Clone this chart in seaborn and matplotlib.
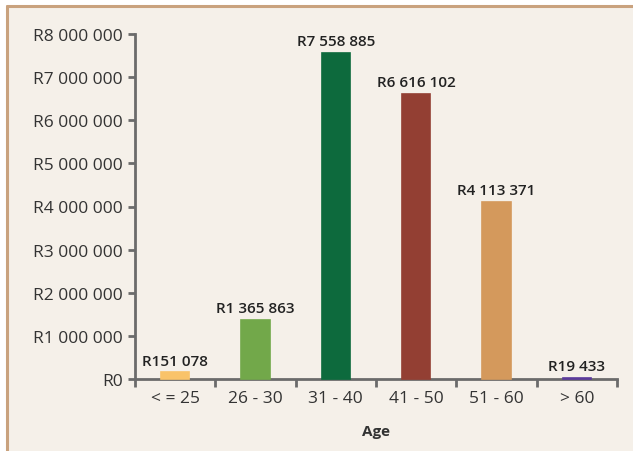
import matplotlib
matplotlib.use("Agg")
import matplotlib.pyplot as plt
import matplotlib.patches as mpatches
import matplotlib.lines as mlines
import seaborn as sns
import pandas as pd
from matplotlib.ticker import FuncFormatter, FixedLocator

categories = ["< = 25", "26 - 30", "31 - 40", "41 - 50", "51 - 60", "> 60"]
values = [151078, 1365863, 7558885, 6616102, 4113371, 19433]
colors = ["#F9C36A", "#72A84A", "#0D6A3D", "#933F33", "#D4995C", "#5B3A9B"]
yticks = [0, 1000000, 2000000, 3000000, 4000000, 5000000, 6000000, 7000000, 8000000]

def rand(v):
    return "R" + f"{int(v):,}".replace(",", " ")

sns.set_theme(style="white")
plt.rcParams["font.family"] = ["Open Sans", "DejaVu Sans"]

W, H = 633, 452
fig = plt.figure(figsize=(W / 100, H / 100), dpi=100, facecolor="white")
bg = "#F5F0E9"
border = "#C9A27E"
fig.patches.append(mpatches.Rectangle((7 / W, 0), 1, 1 - 7 / H, transform=fig.transFigure,
                                      facecolor=bg, edgecolor="none", zorder=-10))
fig.lines.append(mlines.Line2D([7 / W, 1], [1 - 7 / H, 1 - 7 / H], transform=fig.transFigure,
                               color=border, lw=2.2, zorder=-5))
fig.lines.append(mlines.Line2D([7 / W, 7 / W], [0, 1 - 7 / H], transform=fig.transFigure,
                               color=border, lw=2.2, zorder=-5))

ax = fig.add_axes([135 / W, 1 - 380 / H, (617 - 135) / W, (380 - 35) / H])
ax.set_facecolor("none")

df = pd.DataFrame({"Age": categories, "Value": values})
sns.barplot(data=df, x="Age", y="Value", hue="Age", palette=colors, width=0.35,
            legend=False, ax=ax, saturation=1, linewidth=0, edgecolor="none")
for p in ax.patches:
    p.set_edgecolor(p.get_facecolor())
    p.set_linewidth(1.2)
    p.set_zorder(3)
    p.set_clip_on(False)

ax.set_xlim(-0.5, 5.5)
ax.set_ylim(0, 8000000)
ax.set_yticks(yticks)
ax.yaxis.set_major_formatter(FuncFormatter(lambda v, p: rand(v)))

spine_c = "#6B6B6B"
for s in ["top", "right"]:
    ax.spines[s].set_visible(False)
for s in ["left", "bottom"]:
    ax.spines[s].set_color(spine_c)
    ax.spines[s].set_linewidth(2)
    ax.spines[s].set_zorder(1)

ax.tick_params(axis="y", which="major", left=True, length=5, width=2, color=spine_c,
               labelsize=12.5, labelcolor="#333333", pad=4)
ax.tick_params(axis="x", which="major", bottom=False, length=0, labelsize=12.5,
               labelcolor="#333333", pad=8)
ax.xaxis.set_minor_locator(FixedLocator([i - 0.5 for i in range(len(categories) + 1)]))
ax.tick_params(axis="x", which="minor", bottom=True, length=6, width=2, color=spine_c)

for i, v in enumerate(values):
    ax.annotate(rand(v), (i, v), xytext=(0, 3.5), textcoords="offset points",
                ha="center", va="bottom", fontsize=11, fontweight="semibold", color="#222222")

ax.set_ylabel("")
ax.set_xlabel("Age", fontsize=11, fontweight="bold", color="#333333", labelpad=13)

fig.savefig("out.png", dpi=100, facecolor=fig.get_facecolor())
